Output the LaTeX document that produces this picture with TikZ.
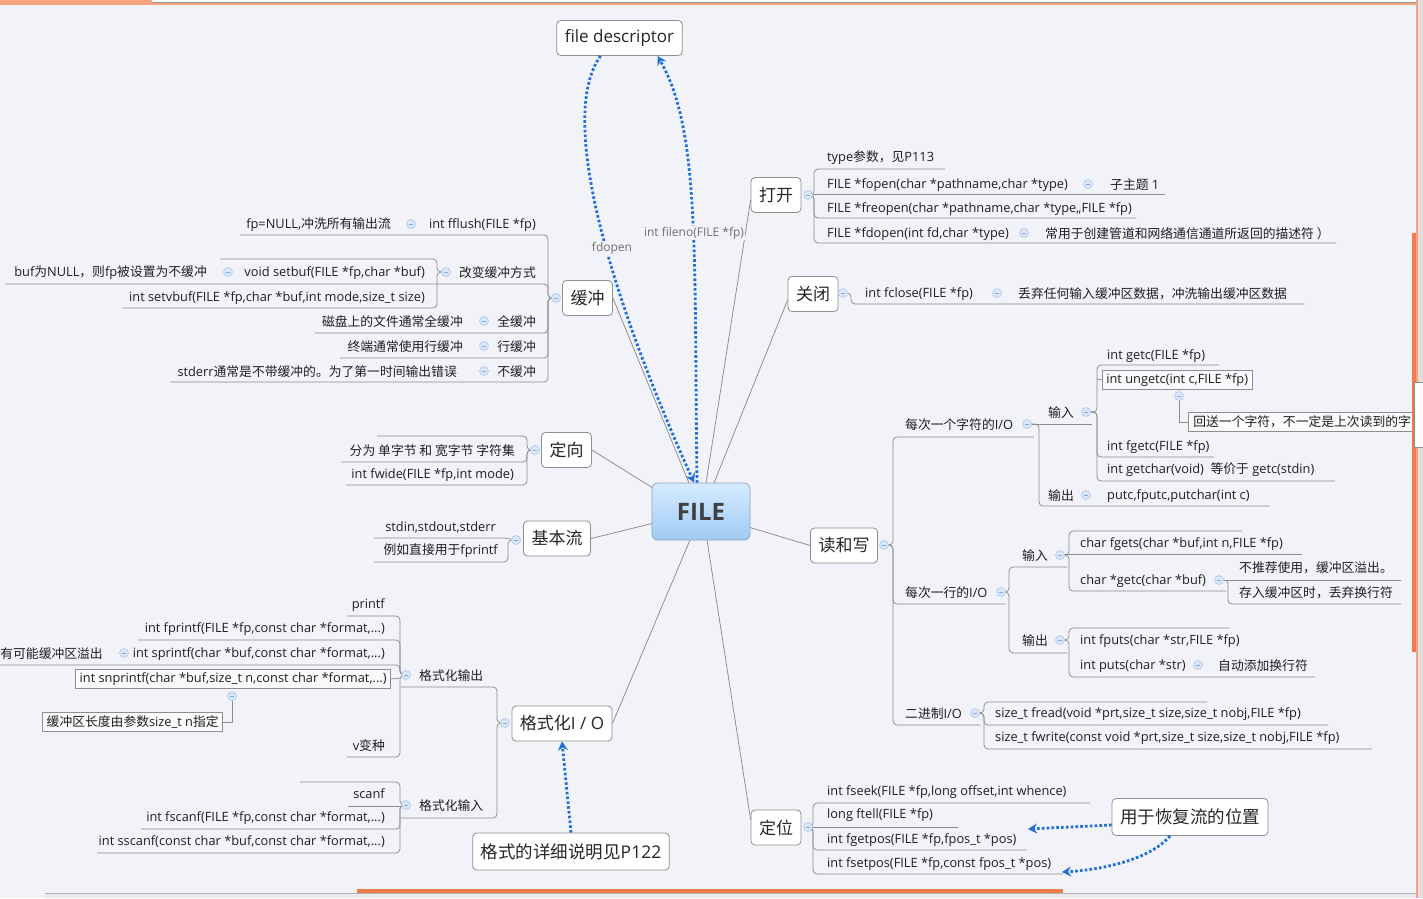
\documentclass[tikz,border=0pt]{standalone}
\usepackage{fontspec}
\setmainfont{Open Sans}
\newfontfamily\zhf{Noto Sans CJK SC}
\newcommand\zh[1]{{\zhf #1}}
\usetikzlibrary{arrows.meta}
\definecolor{bgc}{HTML}{F2F3F8}
\definecolor{linec}{HTML}{8C8C8C}
\definecolor{boxc}{HTML}{8E8E8E}
\definecolor{leafc}{HTML}{1E1E1E}
\definecolor{arrc}{HTML}{1F6FD6}
\definecolor{colfill}{HTML}{DAE7F9}
\definecolor{coldraw}{HTML}{AFC7EC}
\definecolor{colmin}{HTML}{8AAADC}
\definecolor{fileTop}{HTML}{D6EBFF}
\definecolor{fileBot}{HTML}{9FCBF5}
\definecolor{fileBd}{HTML}{8FA3BA}
\definecolor{labc}{HTML}{707070}
\definecolor{orA}{HTML}{F7A27E}
\definecolor{orB}{HTML}{F07C4C}
\definecolor{grayP}{HTML}{E0E0E0}
\tikzset{
 conn/.style={draw=linec, line width=.75pt},
 leaf/.style={font=\fontsize{12.8}{15}\selectfont, text=leafc, inner sep=0pt, yshift=-1pt},
 leafbox/.style={leaf, draw=boxc, fill=white!60!bgc, inner xsep=4pt, inner ysep=0pt, minimum height=19pt, line width=.7pt},
 topic/.style={draw=boxc, fill=white, rounded corners=4pt, font=\fontsize{17}{20}\selectfont, text=black!85, minimum height=35pt, inner xsep=8pt, line width=.8pt},
 floattopic/.style={topic, font=\fontsize{17.5}{21}\selectfont, minimum height=37pt},
 colc/.style={circle, minimum size=9pt, inner sep=0pt, fill=colfill, draw=coldraw, line width=.6pt,
   path picture={\draw[colmin,line width=.8pt] ([xshift=-2.2pt]path picture bounding box.center) -- ([xshift=2.2pt]path picture bounding box.center);}},
 darrow/.style={draw=arrc, line width=2.8pt, dash pattern=on 2.6pt off 2.2pt, -{Stealth[length=9pt,width=10pt,inset=3pt]}},
 elabel/.style={font=\fontsize{12}{14}\selectfont, text=labc, fill=bgc, inner sep=1pt},
}
\newcommand\MRow[5]{\draw[conn,rounded corners=4pt] (#1,-#2) -- (#3,-#2) -- (#3,-#4) -- (#5,-#4);}
\newcommand\MCol[3]{\node[colc] (#1) at (#2,-#3) {};}
\begin{document}
\begin{tikzpicture}[x=1pt,y=1pt]
\useasboundingbox (0,0) rectangle (1423,-898);
\fill[bgc] (0,0) rectangle (1423,-898);

% ---------- main topics ----------
\node[topic] (huanchong) at (587.5,-298) {\zh{缓冲}};
\node[topic] (dakai) at (776,-195) {\zh{打开}};
\node[topic] (guanbi) at (813,-294) {\zh{关闭}};
\node[topic] (dingxiang) at (566.5,-450) {\zh{定向}};
\node[topic] (jiben) at (557,-538.5) {\zh{基本流}};
\node[topic] (duxie) at (844,-545.5) {\zh{读和写}};
\node[topic] (geshi) at (562,-723.5) {\zh{格式化}I / O};
\node[topic] (dingwei) at (776,-827.5) {\zh{定位}};
\node[topic] (fd) at (619.5,-38) {file descriptor};
\node[floattopic] (xiangxi) at (571,-851.5) {\zh{格式的详细说明见}P122};
\node[floattopic] (huifu) at (1190,-817) {\zh{用于恢复流的位置}};

% ---------- connectors from FILE ----------
\coordinate (FILEpos) at (701,-511.5);
\draw[conn] (huanchong.east) -- ([xshift=-12pt,yshift=28.5pt]FILEpos);
\draw[conn] ([yshift=-5pt]dakai.west) -- ([xshift=5pt,yshift=28.5pt]FILEpos);
\draw[conn] ([yshift=-6pt]guanbi.west) -- ([xshift=13pt,yshift=28.5pt]FILEpos);
\draw[conn] (dingxiang.east) -- ([xshift=-49pt,yshift=24pt]FILEpos);
\draw[conn] (jiben.east) -- ([xshift=-49pt,yshift=-12pt]FILEpos);
\draw[conn] ([xshift=49pt,yshift=-16pt]FILEpos) -- (duxie.west);
\draw[conn] (geshi.east) -- ([xshift=-11pt,yshift=-28.5pt]FILEpos);
\draw[conn] ([xshift=6pt,yshift=-28.5pt]FILEpos) -- ([yshift=8pt]dingwei.west);
\node[draw=fileBd, rounded corners=6pt, top color=fileTop, bottom color=fileBot, minimum width=98pt, minimum height=57pt, font=\bfseries\fontsize{24}{28}\selectfont, text=black!75, line width=.8pt] (FILE) at (FILEpos) {FILE};

% ---------- 缓冲 ----------
\MRow{240}{235}{548}{298}{556}
\MRow{5}{284}{548}{298}{556}
\MRow{315}{333}{548}{298}{556}
\MRow{340}{358}{548}{298}{556}
\MRow{170}{382}{548}{298}{556}
\MRow{220}{259}{437}{272}{446}
\MRow{122}{308}{437}{272}{446}
\node[leaf,anchor=east] (fflush) at (536,-224) {int fflush(FILE *fp)};
\node[leaf,anchor=east] (fpnull) at (391,-224) {fp=NULL,\zh{冲洗所有输出流}};
\node[leaf,anchor=east] (gaibian) at (536,-272) {\zh{改变缓冲方式}};
\node[leaf,anchor=east] (setbuf) at (425,-272) {void setbuf(FILE *fp,char *buf)};
\node[leaf,anchor=east] (bufnull) at (207,-272) {buf\zh{为}NULL\zh{，则}fp\zh{被设置为不缓冲}};
\node[leaf,anchor=east] (setvbuf) at (425,-297) {int setvbuf(FILE *fp,char *buf,int mode,size\_t size)};
\node[leaf,anchor=east] (quan) at (536,-321) {\zh{全缓冲}};
\node[leaf,anchor=east] (cipan) at (463,-321) {\zh{磁盘上的文件通常全缓冲}};
\node[leaf,anchor=east] (hang) at (536,-346) {\zh{行缓冲}};
\node[leaf,anchor=east] (zhongduan) at (463,-346) {\zh{终端通常使用行缓冲}};
\node[leaf,anchor=east] (buhc) at (536,-371) {\zh{不缓冲}};
\node[leaf,anchor=east] (stderrn) at (457,-371) {stderr\zh{通常是不带缓冲的。为了第一时间输出错误}};
\MCol{c1}{556}{298}
\MCol{c2}{411}{224}
\MCol{c3}{446}{272}
\MCol{c4}{228}{272}
\MCol{c5}{484}{321}
\MCol{c6}{484}{346}
\MCol{c7}{484}{371}

% ---------- 定向 ----------
\MRow{377}{436}{527}{450}{535}
\MRow{341}{462}{527}{450}{535}
\MRow{346}{485}{527}{450}{535}
\node[leaf,anchor=east] (fenwei) at (515,-450) {\zh{分为 单字节 和 宽字节 字符集}};
\node[leaf,anchor=east] (fwide) at (514,-474) {int fwide(FILE *fp,int mode)};
\MCol{c8}{535}{450}

% ---------- 基本流 ----------
\draw[conn] (374,-538) -- (504,-538) to[out=0,in=180] (516,-540);
\MRow{374}{562}{508}{540}{516}
\node[leaf,anchor=east] (stdinn) at (496,-526) {stdin,stdout,stderr};
\node[leaf,anchor=east] (liru) at (498,-550) {\zh{例如直接用于}fprintf};
\MCol{c9}{516}{540}

% ---------- 格式化I/O ----------
\MRow{401}{687}{497}{723}{505}
\MRow{401}{818}{497}{723}{505}
\node[leaf,anchor=west] (gsout) at (419,-675) {\zh{格式化输出}};
\node[leaf,anchor=west] (gsin) at (419,-805) {\zh{格式化输入}};
\MRow{347}{616}{400}{675}{406}
\MRow{138}{640}{400}{675}{406}
\MRow{0}{665}{400}{675}{406}
\MRow{347}{757}{400}{675}{406}
\node[leaf,anchor=east] (printfn) at (385,-604) {printf};
\node[leaf,anchor=east] (fprintfn) at (385,-628) {int fprintf(FILE *fp,const char *format,...)};
\node[leaf,anchor=east] (sprintfn) at (385,-653) {int sprintf(char *buf,const char *format,...)};
\node[leaf,anchor=east] (youkeneng) at (103,-653) {\zh{有可能缓冲区溢出}};
\node[leafbox,anchor=east] (snprintfn) at (391,-678) {int snprintf(char *buf,size\_t n,const char *format,...)};
\draw[conn] (snprintfn.east) -- (400,-678);
\node[leafbox,anchor=east] (lenbox) at (223,-721) {\zh{缓冲区长度由参数}size\_t n\zh{指定}};
\draw[conn] (232,-700) |- (lenbox.east);
\node[leaf,anchor=east] (vbian) at (385,-745) {v\zh{变种}};
\MRow{300}{782}{400}{805}{406}
\draw[conn] (348,-806) -- (406,-806);
\MRow{141}{829}{400}{805}{406}
\MRow{97}{853}{400}{805}{406}
\node[leaf,anchor=east] (scanfn) at (385,-793) {scanf};
\node[leaf,anchor=east] (fscanfn) at (385,-817) {int fscanf(FILE *fp,const char *format,...)};
\node[leaf,anchor=east] (sscanfn) at (385,-841) {int sscanf(const char *buf,const char *format,...)};
\MCol{c10}{505}{723}
\MCol{c11}{406}{675}
\MCol{c12}{406}{805}
\MCol{c13}{124}{653}
\MCol{c14}{232}{696}

% ---------- 打开 ----------
\MRow{945}{169}{814}{195}{808}
\draw[conn] (808,-194.5) -- (1165,-194.5);
\MRow{1136}{218}{814}{195}{808}
\MRow{1336}{243}{814}{195}{808}
\node[leaf,anchor=west] (typen) at (827,-157) {type\zh{参数，见}P113};
\node[leaf,anchor=west] (fopenn) at (827,-184) {FILE *fopen(char *pathname,char *type)};
\node[leaf,anchor=west] (zizhuti) at (1110,-184) {\zh{子主题} 1};
\node[leaf,anchor=west] (freopenn) at (827,-208) {FILE *freopen(char *pathname,char *type,,FILE *fp)};
\node[leaf,anchor=west] (fdopenn) at (827,-233) {FILE *fdopen(int fd,char *type)};
\node[leaf,anchor=west] (changyong) at (1045,-233) {\zh{常用于创建管道和网络通信通道所返回的描述符 ）}};
\MCol{c15}{808}{195}
\MCol{c16}{1088}{184}
\MCol{c17}{1024}{233}

% ---------- 关闭 ----------
\draw[conn,rounded corners=4pt] (843,-293) -- (851,-293) -- (851,-304) -- (1304,-304);
\node[leaf,anchor=west] (fclosen) at (865,-293) {int fclose(FILE *fp)};
\node[leaf,anchor=west] (diuqi) at (1018,-293) {\zh{丢弃任何输入缓冲区数据，冲洗输出缓冲区数据}};
\MCol{c18}{843}{293}
\MCol{c19}{997}{293}

% ---------- 读和写 ----------
\MRow{1034}{437}{893}{545}{884}
\MRow{1006}{604}{893}{545}{884}
\MRow{980}{725}{893}{545}{884}
\node[leaf,anchor=west] (meici1) at (905,-424) {\zh{每次一个字符的}I/O};
\node[leaf,anchor=west] (meici2) at (905,-592) {\zh{每次一行的}I/O};
\node[leaf,anchor=west] (erjin) at (905,-713) {\zh{二进制}I/O};
% char I/O
\draw[conn] (1027,-424) -- (1092,-424);
\MRow{1270}{506}{1039}{424}{1027}
\node[leaf,anchor=west] (shuru1) at (1048,-412) {\zh{输入}};
\node[leaf,anchor=west] (shuchu1) at (1048,-495) {\zh{输出}};
\MRow{1219}{365}{1097}{412}{1086}
\MRow{1214}{457}{1097}{412}{1086}
\MRow{1335}{481}{1097}{412}{1086}
\node[leaf,anchor=west] (getcn) at (1107,-355) {int getc(FILE *fp)};
\node[leafbox,anchor=west] (ungetcn) at (1102,-379) {int ungetc(int c,FILE *fp)};
\draw[conn] (1097,-379) -- (ungetcn.west);
\node[leafbox,anchor=west,minimum width=250pt,align=left,text width=240pt] (huisong) at (1188,-421) {\zh{回送一个字符，不一定是上次读到的字}};
\draw[conn] (1179,-400) |- (huisong.west);
\node[leaf,anchor=west] (fgetcn) at (1107,-446) {int fgetc(FILE *fp)};
\node[leaf,anchor=west] (getcharn) at (1107,-469) {int getchar(void)\ \ \zh{等价于} getc(stdin)};
\node[leaf,anchor=west] (putcn) at (1107,-495) {putc,fputc,putchar(int c)};
% line I/O
\MRow{1067}{567}{1009}{592}{1001}
\MRow{1067}{653}{1009}{592}{1001}
\node[leaf,anchor=west] (shuru2) at (1022,-555) {\zh{输入}};
\node[leaf,anchor=west] (shuchu2) at (1022,-640) {\zh{输出}};
\MRow{1242}{531}{1069}{555}{1060}
\draw[conn] (1060,-554.5) -- (1302,-554.5);
\MRow{1226}{591}{1069}{555}{1060}
\node[leaf,anchor=west] (fgetsn) at (1080,-543) {char fgets(char *buf,int n,FILE *fp)};
\node[leaf,anchor=west] (getsn) at (1080,-580) {char *getc(char *buf)};
\draw[conn] (1219,-580) -- (1401,-580);
\MRow{1401}{604}{1228}{580}{1219}
\node[leaf,anchor=west] (butuijian) at (1239,-567) {\zh{不推荐使用，缓冲区溢出。}};
\node[leaf,anchor=west] (cunru) at (1239,-592) {\zh{存入缓冲区时，丢弃换行符}};
\MRow{1230}{628}{1069}{640}{1060}
\MRow{1315}{677}{1069}{640}{1060}
\node[leaf,anchor=west] (fputsn) at (1080,-640) {int fputs(char *str,FILE *fp)};
\node[leaf,anchor=west] (putsn) at (1080,-665) {int puts(char *str)};
\node[leaf,anchor=west] (zidong) at (1218,-665) {\zh{自动添加换行符}};
% binary
\MRow{1207}{702}{984}{713}{975}
\MRow{1328}{725}{984}{713}{975}
\MRow{1372}{749}{984}{713}{975}
\node[leaf,anchor=west] (freadn) at (995,-713) {size\_t fread(void *prt,size\_t size,size\_t nobj,FILE *fp)};
\node[leaf,anchor=west] (fwriten) at (995,-737) {size\_t fwrite(const void *prt,size\_t size,size\_t nobj,FILE *fp)};
\MCol{c20}{884}{545}
\MCol{c21}{1027}{424}
\MCol{c22}{1086}{412}
\MCol{c23}{1086}{495}
\MCol{c24}{1179}{396}
\MCol{c25}{1001}{592}
\MCol{c26}{1060}{555}
\MCol{c27}{1060}{640}
\MCol{c28}{1219}{580}
\MCol{c29}{1198}{665}
\MCol{c30}{975}{713}

% ---------- 定位 ----------
\MRow{1090}{803}{813}{827}{808}
\draw[conn] (808,-827) -- (958,-827);
\MRow{1027}{850}{813}{827}{808}
\MRow{1063}{874}{813}{827}{808}
\node[leaf,anchor=west] (fseekn) at (827,-791) {int fseek(FILE *fp,long offset,int whence)};
\node[leaf,anchor=west] (ftelln) at (827,-814) {long ftell(FILE *fp)};
\node[leaf,anchor=west] (fgetposn) at (827,-839) {int fgetpos(FILE *fp,fpos\_t *pos)};
\node[leaf,anchor=west] (fsetposn) at (827,-863) {int fsetpos(FILE *fp,const fpos\_t *pos)};
\MCol{c31}{808}{827}

% ---------- dotted relationships ----------
\draw[darrow] ([xshift=-19pt]fd.south) .. controls (556,-118) and (612,-300) .. ([xshift=-7pt]FILE.north);
\draw[darrow] ([xshift=-4pt]FILE.north) .. controls (694,-250) and (700,-130) .. ([xshift=38pt]fd.south);
\node[elabel] (lfdopen) at (612,-248) {fdopen};
\node[elabel] (lfileno) at (694,-233) {int fileno(FILE *fp)};
\draw[darrow] (xiangxi.north) -- (geshi.south);
\coordinate (fgetposend) at (1028,-829);
\coordinate (fsetposend) at (1062,-872);
\draw[darrow] ([yshift=-8pt]huifu.west) -- (fgetposend);
\draw[darrow] ([xshift=-20pt]huifu.south) .. controls (1150,-860) and (1100,-870) .. (fsetposend);

% ---------- window frame ----------
\fill[orA] (0,0) rectangle (1417,-5);
\fill[white!80!bgc] (152,0) rectangle (1417,-2.5);
\draw[black!40,line width=.6pt] (152,-2.6) -- (1417,-2.6);
\fill[orA] (0,0) rectangle (152,-5);
\fill[grayP] (1417,0) rectangle (1423,-898);
\fill[orA] (1415.5,0) rectangle (1417.5,-898);
\fill[orB] (1412,-233) rectangle (1415.5,-652);
\draw[black!45,fill=white,line width=.6pt] (1414,-382) rectangle (1423,-447);
\fill[black!8] (45,-893) rectangle (1415.5,-898);
\draw[black!30,line width=.6pt] (45,-893) -- (1415.5,-893);
\fill[orB] (357,-888.5) rectangle (1063,-892.5);
\end{tikzpicture}
\end{document}
